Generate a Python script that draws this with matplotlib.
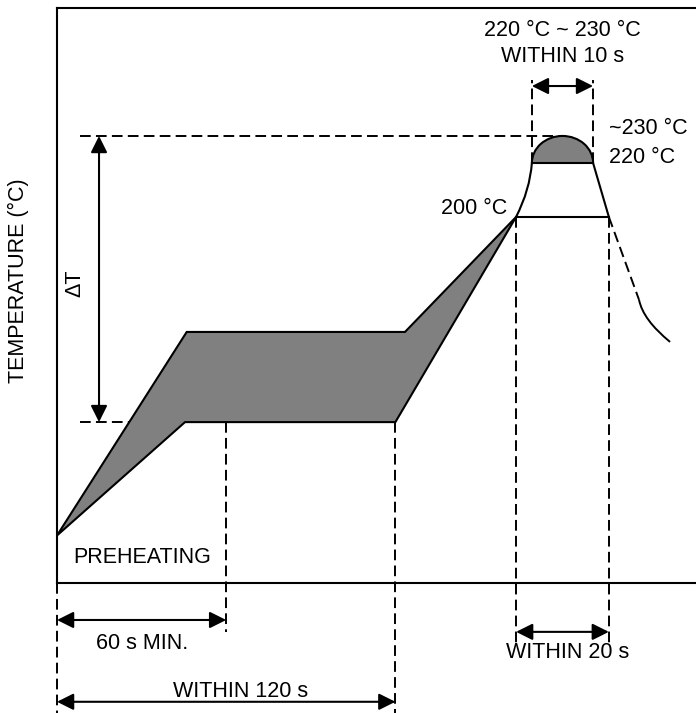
import numpy as np
import matplotlib as mpl
mpl.use('Agg')
import matplotlib.pyplot as plt
from matplotlib.path import Path
from matplotlib.patches import PathPatch, Polygon, Ellipse, Rectangle

plt.rcParams['font.family'] = ['Liberation Sans', 'DejaVu Sans']

# schematic time (s) / temperature (degC) values of the reflow profile
t_start, T_start = 0, 82
preheat_upper_t = [0, 46, 123.4, 162.8]
preheat_upper_T = [82, 157.4, 157.4, 200]
preheat_lower_t = [162.8, 120, 45.4, 0]
preheat_lower_T = [200, 124, 124, 82]

T_pre = 124          # lower preheat level (start of dT)
T_200, T_220, T_230 = 200, 220, 230
t_200 = [162.8, 195.7]      # width of 200 degC level
t_220 = [168.4, 190.1]      # width of 220 degC level
t_60, t_120 = 60, 120

# peak curve (bezier control points)
rise_t = [162.8, 167.7, 168.4]
rise_T = [200, 210, 220]
cool_dash_t = [195.7, 206.4]
cool_dash_T = [200, 169.3]
cool_t = [206.4, 207.8, 217.4]
cool_T = [169.3, 161.9, 153.7]

gray = '#808080'
dash = (0, (5.5, 2.7))
fs = 15.5

fig = plt.figure(figsize=(6.96, 7.13), dpi=100)
ax = fig.add_axes([57/696, 130/713, 1 - 57/696, 575/713])
ax.set_xlim(0, 226.6)
ax.set_ylim(64.4, 277.4)
ax.set_xticks([])
ax.set_yticks([])
ax.spines['right'].set_visible(False)
for s in ['left', 'top', 'bottom']:
    ax.spines[s].set_linewidth(1.5)
ax.set_ylabel('TEMPERATURE (°C)', fontsize=fs)
ax.yaxis.set_label_coords(-(57 - 29)/639, (583 - 281)/575)

# preheat band
band = Polygon(list(zip(preheat_upper_t + preheat_lower_t,
                        preheat_upper_T + preheat_lower_T)),
               closed=True, facecolor=gray, edgecolor='black', lw=1.5, zorder=3)
ax.add_patch(band)

# rise to 220 and 220 -> 200 drop
rise = Path(list(zip(rise_t, rise_T)), [Path.MOVETO, Path.CURVE3, Path.CURVE3])
ax.add_patch(PathPatch(rise, fill=False, edgecolor='black', lw=1.5, zorder=3))
ax.plot([t_220[1], t_200[1]], [T_220, T_200], color='black', lw=1.5, zorder=3)
ax.plot(t_200, [T_200, T_200], color='black', lw=1.5, zorder=3)

# dome between 220 and 230
dome = Ellipse(((t_220[0] + t_220[1]) / 2, T_220), t_220[1] - t_220[0],
               2 * (T_230 - T_220), facecolor=gray, edgecolor='black', lw=1.5, zorder=3)
ax.add_patch(dome)
clip = Rectangle((t_220[0] - 5, T_220), 40, 30, transform=ax.transData)
dome.set_clip_path(clip)
ax.plot(t_220, [T_220, T_220], color='black', lw=1.5, zorder=4)

# cooling
ax.plot(cool_dash_t, cool_dash_T, color='black', lw=1.4, linestyle=dash, zorder=3)
cool = Path(list(zip(cool_t, cool_T)), [Path.MOVETO, Path.CURVE3, Path.CURVE3])
ax.add_patch(PathPatch(cool, fill=False, edgecolor='black', lw=1.4, zorder=3))

# dashed guide lines
dkw = dict(color='black', lw=1.4, linestyle=dash, clip_on=False, zorder=2)
peak_mid = (t_220[0] + t_220[1]) / 2
ax.plot([8.2, peak_mid], [T_230, T_230], **dkw)
ax.plot([8.2, t_60], [T_pre, T_pre], **dkw)
ax.plot([t_start, t_start], [64.4, 16.3], **dkw)
ax.plot([t_60, t_60], [T_pre, 46.3], **dkw)
ax.plot([t_120, t_120], [T_pre, 16.3], **dkw)
for x in t_200:
    ax.plot([x, x], [T_200, 41.5], **dkw)
for x in t_220:
    ax.plot([x, x], [T_220, 250.7], **dkw)

# dimension arrows
def dim(x0, y0, x1, y1):
    ax.annotate('', xy=(x1, y1), xytext=(x0, y0), annotation_clip=False,
                arrowprops=dict(arrowstyle='<|-|>,head_length=0.5,head_width=0.25',
                                color='black', lw=1.5, mutation_scale=20,
                                shrinkA=0, shrinkB=0))

dim(14.9, T_230, 14.9, T_pre)
dim(t_220[0], 248.5, t_220[1], 248.5)
dim(t_200[0], 46.3, t_200[1], 46.3)
dim(t_start, 50.7, t_60, 50.7)
dim(t_start, 20.4, t_120, 20.4)

# labels
tkw = dict(fontsize=fs, clip_on=False)
ax.text(peak_mid, 268.9, '220 °C ~ 230 °C', ha='center', va='center', **tkw)
ax.text(peak_mid, 259.6, 'WITHIN 10 s', ha='center', va='center', **tkw)
ax.text(195.7, 232.6, '~230 °C', ha='left', va='center', **tkw)
ax.text(195.7, 222.2, '220 °C', ha='left', va='center', **tkw)
ax.text(159.6, 203.3, '200 °C', ha='right', va='center', **tkw)
ax.text(30.1, 73.7, 'PREHEATING', ha='center', va='center', **tkw)
ax.text(30.1, 41.9, '60 s MIN.', ha='center', va='center', **tkw)
ax.text(65.2, 24.1, 'WITHIN 120 s', ha='center', va='center', **tkw)
ax.text(180.9, 38.5, 'WITHIN 20 s', ha='center', va='center', **tkw)
ax.text(6.4, 175.6, 'ΔT', ha='center', va='center', rotation=90, **tkw)

fig.savefig('out.png', dpi=100)
